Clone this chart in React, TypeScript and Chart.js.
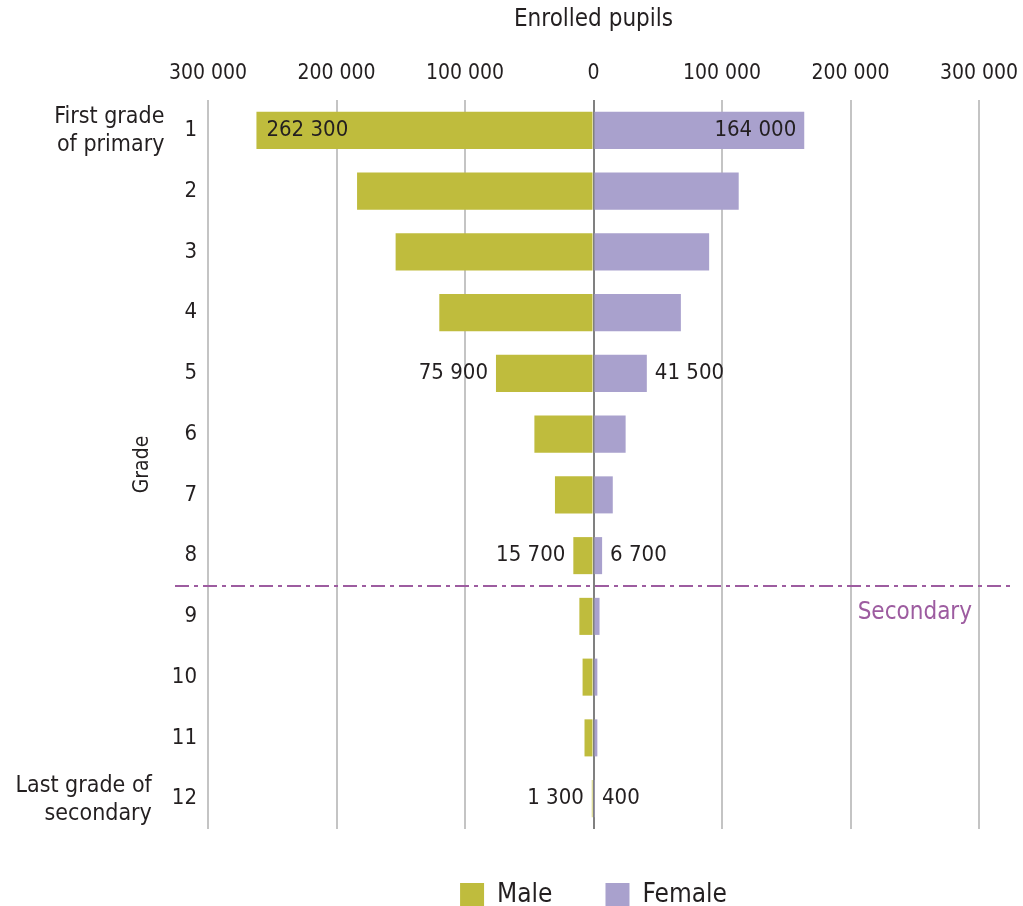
import React, { useEffect, useRef } from "react";
import { Chart, registerables } from "chart.js";

Chart.register(...registerables);

const grades = ["1", "2", "3", "4", "5", "6", "7", "8", "9", "10", "11", "12"];
const male = [262300, 184000, 154000, 120000, 75900, 46000, 30000, 15700, 11000, 8500, 7000, 1300];
const female = [164000, 113000, 90000, 68000, 41500, 25000, 15000, 6700, 4700, 3000, 3000, 400];
const labelledRows = [0, 4, 7, 11];
const xTicks = [-300000, -200000, -100000, 0, 100000, 200000, 300000];
const rowNotes: { index: number; lines: string[] }[] = [
  { index: 0, lines: ["First grade", "of primary"] },
  { index: 11, lines: ["Last grade of", "secondary"] },
];
const secondaryAfterIndex = 7;
const secondaryLabel = "Secondary";

const FONT = "'Liberation Sans Narrow', 'DejaVu Sans Condensed', 'Roboto Condensed', sans-serif";
const TEXT = "#231f20";
const MALE_COLOR = "#bfbc3d";
const FEMALE_COLOR = "#a9a1cd";
const PURPLE = "#9d5ca0";

const fmt = (n: number) => Math.abs(n).toString().replace(/\B(?=(\d{3})+(?!\d))/g, " ");

const overlayPlugin = {
  id: "overlay",
  afterDatasetsDraw(chart: any) {
    const ctx = chart.ctx;
    const area = chart.chartArea;
    const yScale = chart.scales.y;
    ctx.save();
    // value labels
    ctx.font = `22px ${FONT}`;
    ctx.fillStyle = TEXT;
    ctx.textBaseline = "middle";
    const mMeta = chart.getDatasetMeta(0);
    const fMeta = chart.getDatasetMeta(1);
    labelledRows.forEach((i) => {
      const mb = mMeta.data[i];
      const fb = fMeta.data[i];
      if (i === 0) {
        ctx.textAlign = "left";
        ctx.fillText(fmt(male[i]), mb.x + 10, mb.y);
        ctx.textAlign = "right";
        ctx.fillText(fmt(female[i]), fb.x - 8, fb.y);
      } else {
        ctx.textAlign = "right";
        ctx.fillText(fmt(male[i]), mb.x - 8, mb.y);
        ctx.textAlign = "left";
        ctx.fillText(fmt(female[i]), fb.x + 8, fb.y);
      }
    });
    // secondary divider
    const yDiv = (yScale.getPixelForValue(secondaryAfterIndex) + yScale.getPixelForValue(secondaryAfterIndex + 1)) / 2;
    ctx.strokeStyle = PURPLE;
    ctx.lineWidth = 2;
    ctx.setLineDash([14, 5, 4, 5]);
    ctx.beginPath();
    ctx.moveTo(area.left - 33, yDiv);
    ctx.lineTo(area.right + 36, yDiv);
    ctx.stroke();
    ctx.setLineDash([]);
    ctx.fillStyle = PURPLE;
    ctx.textAlign = "right";
    ctx.font = `24px ${FONT}`;
    ctx.fillText(secondaryLabel, area.right - 7, yDiv + 27);
    // row notes
    ctx.fillStyle = TEXT;
    rowNotes.forEach((note) => {
      const yc = yScale.getPixelForValue(note.index);
      ctx.font = `22px ${FONT}`;
      const w = ctx.measureText(grades[note.index]).width;
      ctx.font = `23px ${FONT}`;
      const xr = area.left - 11 - w - 20;
      ctx.textAlign = "right";
      ctx.fillText(note.lines[0], xr, yc - 13);
      ctx.fillText(note.lines[1], xr, yc + 15);
    });
    ctx.restore();
  },
};

export default function App() {
  const ref = useRef<HTMLCanvasElement>(null);
  useEffect(() => {
    if (!ref.current) return;
    const chart = new Chart(ref.current, {
      type: "bar",
      data: {
        labels: grades,
        datasets: [
          { label: "Male", data: male.map((v) => -v), backgroundColor: MALE_COLOR, barPercentage: 0.61, categoryPercentage: 1 },
          { label: "Female", data: female, backgroundColor: FEMALE_COLOR, barPercentage: 0.61, categoryPercentage: 1 },
        ],
      },
      options: {
        indexAxis: "y",
        animation: false,
        responsive: false,
        layout: { padding: { left: 0, right: 44, top: 0, bottom: -12 } },
        scales: {
          x: {
            position: "top",
            stacked: true,
            min: -300000,
            max: 300000,
            afterBuildTicks: (scale: any) => {
              scale.ticks = xTicks.map((v) => ({ value: v }));
            },
            afterFit: (scale: any) => {
              scale.height = 100;
              scale.paddingLeft = 0;
              scale.paddingRight = 0;
            },
            ticks: {
              callback: (v: any) => fmt(Number(v)),
              font: { family: FONT, size: 21 },
              color: TEXT,
              padding: 14,
            },
            grid: {
              drawTicks: false,
              color: (c: any) => (c.tick && c.tick.value === 0 ? "#808080" : "#c4c4c4"),
              lineWidth: 2,
            },
            border: { display: false },
            title: {
              display: true,
              text: "Enrolled pupils",
              font: { family: FONT, size: 24 },
              color: TEXT,
              padding: { top: 5, bottom: 0 },
            },
          },
          y: {
            stacked: true,
            afterFit: (scale: any) => {
              scale.width = 208;
            },
            ticks: {
              font: { family: FONT, size: 22 },
              color: TEXT,
              padding: 11,
            },
            grid: { display: false, drawTicks: false },
            border: { display: false },
            title: {
              display: true,
              text: "Grade",
              font: { family: FONT, size: 21 },
              color: TEXT,
              padding: { top: 130, bottom: 0 },
            },
          },
        },
        plugins: {
          legend: {
            position: "bottom",
            fullSize: false,
            labels: {
              font: { family: FONT, size: 26 },
              color: TEXT,
              boxWidth: 24,
              boxHeight: 24,
              padding: 53,
            },
          },
          tooltip: { enabled: false },
        },
      },
      plugins: [overlayPlugin],
    } as any);
    return () => chart.destroy();
  }, []);
  return (
    <div style={{ position: "absolute", left: 0, top: 0, width: 1023, height: 906, background: "#fff" }}>
      <canvas ref={ref} width={1023} height={906} style={{ width: 1023, height: 906, display: "block" }} />
    </div>
  );
}
